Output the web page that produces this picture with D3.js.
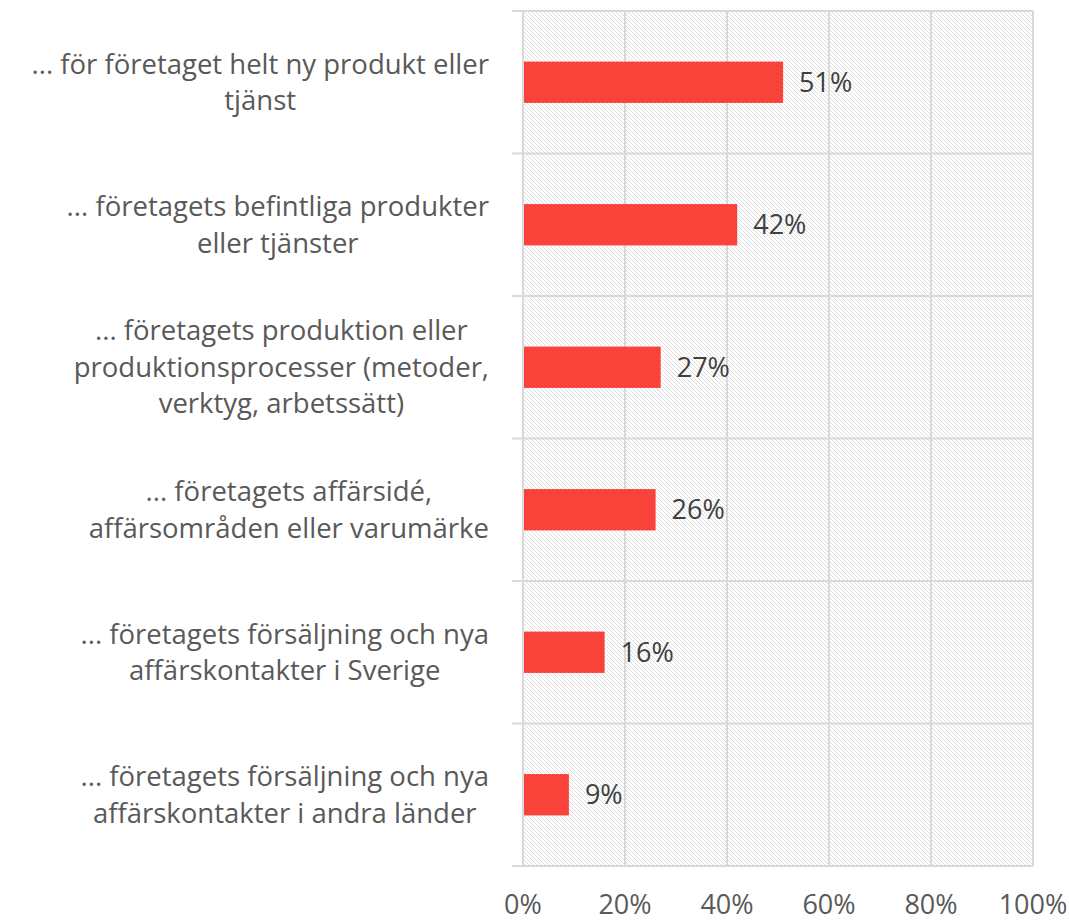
<!DOCTYPE html>
<html><head><meta charset="utf-8">
<script src="https://cdn.jsdelivr.net/npm/d3@7"></script>
<style>body{margin:0;background:#fff}</style>
</head><body>
<svg id="c" width="1069" height="922"></svg>
<script>
const categories = [
  ["... för företaget helt ny produkt eller","tjänst"],
  ["... företagets befintliga produkter","eller tjänster"],
  ["... företagets produktion eller","produktionsprocesser (metoder,","verktyg, arbetssätt)"],
  ["... företagets affärsidé,","affärsområden eller varumärke"],
  ["... företagets försäljning och nya","affärskontakter i Sverige"],
  ["... företagets försäljning och nya","affärskontakter i andra länder"]
];
const values = [51, 42, 27, 26, 16, 9];
const xTicks = [0, 20, 40, 60, 80, 100];

const font = "'Open Sans', sans-serif";
const textColor = "#595959";
const svg = d3.select("#c");
const L = 523, R = 1033, T = 11, B = 866;

const defs = svg.append("defs");
const pat = defs.append("pattern").attr("id","hatch").attr("patternUnits","userSpaceOnUse")
  .attr("width",4).attr("height",4);
pat.append("path").attr("d","M-1,-1 L5,5 M-1,3 L1,5 M3,-1 L5,1").attr("stroke","#dedede").attr("stroke-width",1);

const x = d3.scaleLinear().domain([0,100]).range([L,R]);
const y = d3.scaleBand().domain(d3.range(categories.length)).range([T,B]).paddingInner(0.71).paddingOuter(0.355);

svg.append("rect").attr("x",L).attr("y",T).attr("width",R-L).attr("height",B-T).attr("fill","url(#hatch)");

svg.append("g").selectAll("line").data(xTicks).join("line")
  .attr("x1",d=>x(d)).attr("x2",d=>x(d)).attr("y1",T).attr("y2",B)
  .attr("stroke","#d9d9d9").attr("stroke-width",2);
const step = (B-T)/categories.length;
svg.append("g").selectAll("line").data(d3.range(categories.length+1)).join("line")
  .attr("x1",L-11).attr("x2",R).attr("y1",i=>T+i*step).attr("y2",i=>T+i*step)
  .attr("stroke","#d9d9d9").attr("stroke-width",2);

svg.append("g").selectAll("rect").data(values).join("rect")
  .attr("x",x(0)+1).attr("y",(d,i)=>y(i)).attr("width",d=>x(d)-x(0)-1).attr("height",y.bandwidth())
  .attr("fill","#f9423a");

svg.append("g").selectAll("text").data(values).join("text")
  .attr("x",d=>x(d)+16).attr("y",(d,i)=>y(i)+y.bandwidth()/2).attr("dy","0.35em")
  .attr("font-family",font).attr("font-size",27).attr("fill","#404040")
  .text(d=>d+"%");

svg.append("g").selectAll("text").data(xTicks).join("text")
  .attr("x",d=>x(d)).attr("y",914).attr("text-anchor","middle")
  .attr("font-family",font).attr("font-size",27).attr("fill",textColor)
  .text(d=>d+"%");

const lh = 36.5;
categories.forEach((lines,i)=>{
  const cy = T + step*(i+0.5);
  const g = svg.append("g");
  const ts = lines.map((ln,k)=>g.append("text")
    .attr("y", cy + (k-(lines.length-1)/2)*lh).attr("dy","0.35em")
    .attr("font-family",font).attr("font-size",27.5).attr("fill",textColor)
    .attr("text-anchor","middle").text(ln));
  const maxW = d3.max(ts, t=>t.node().getComputedTextLength());
  ts.forEach(t=>t.attr("x", 489 - maxW/2));
});
</script>
</body></html>
